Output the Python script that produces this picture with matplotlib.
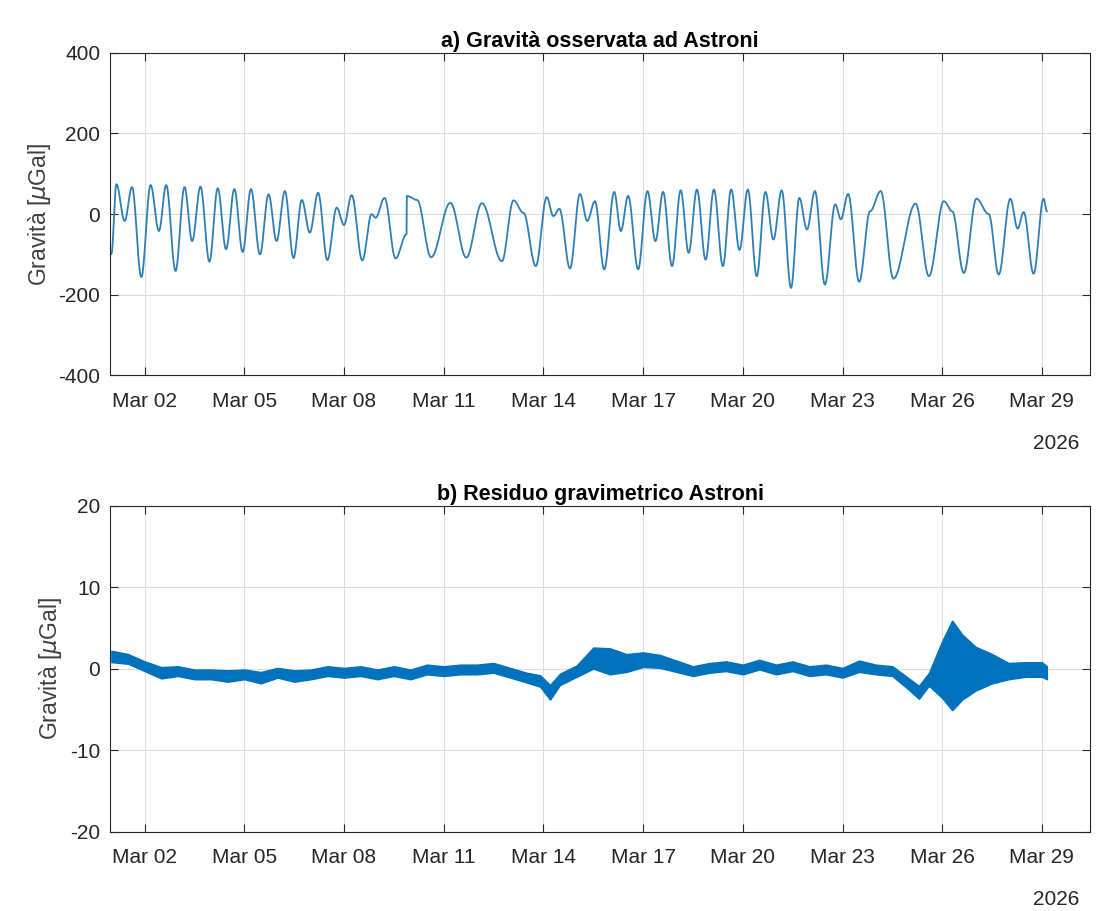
import numpy as np
import matplotlib
matplotlib.use("Agg")
import matplotlib.pyplot as plt
import matplotlib.dates as mdates
from datetime import datetime, timedelta

plt.rcParams['font.family'] = ['Liberation Sans', 'DejaVu Sans']
plt.rcParams['axes.unicode_minus'] = False

START = datetime(2026, 3, 1)

# panel a: turning points of the observed gravity (days from Mar 1, µGal)
obs_days = [0.00, 0.15, 0.40, 0.62, 0.90, 1.18, 1.43, 1.65, 1.93, 2.20, 2.43, 2.68, 2.95,
            3.20, 3.45, 3.70, 3.95, 4.20, 4.47, 4.73, 4.97, 5.22, 5.48, 5.73, 5.97, 6.22,
            6.50, 6.78, 7.00, 7.23, 7.55, 7.83, 7.95, 8.22, 8.55, 8.88, 8.89, 9.20, 9.62,
            10.20, 10.68, 11.15, 11.75, 12.10, 12.40, 12.77, 13.10, 13.30, 13.48, 13.80,
            14.10, 14.32, 14.55, 14.83, 15.13, 15.33, 15.55, 15.85, 16.13, 16.37, 16.60,
            16.87, 17.13, 17.37, 17.62, 17.88, 18.13, 18.40, 18.65, 18.90, 19.15, 19.42,
            19.68, 19.92, 20.17, 20.45, 20.70, 20.93, 21.17, 21.47, 21.78, 21.95, 22.17,
            22.50, 22.83, 23.15, 23.53, 24.20, 24.60, 25.05, 25.30, 25.65, 26.03, 26.40,
            26.70, 27.05, 27.27, 27.45, 27.75, 28.05, 28.15]
obs_vals = [-99, 74, -17, 67, -156, 72, -42, 72, -141, 67, -67, 68, -118,
            64, -87, 62, -94, 62, -100, 49, -67, 57, -109, 35, -46, 53,
            -114, 16, -27, 47, -115, 0, -9, 40, -110, -50, 45, 35, -107,
            28, -108, 27, -117, 34, 3, -129, 42, -5, 13, -135,
            50, -17, 32, -137, 55, -42, 45, -137, 57, -67, 55,
            -129, 59, -96, 61, -113, 61, -129, 61, -89, 61, -154,
            55, -63, 59, -183, 40, -38, 57, -175, 24, -13, 50,
            -168, 7, 57, -160, 26, -154, 32, 7, -146, 38, 0,
            -150, 38, -36, 5, -148, 38, 7]

# panel b: residual level and noise half-width (days from Mar 1, µGal)
res_days = [0.0, 0.5, 1.0, 1.5, 2.0, 2.5, 3.0, 3.5, 4.0, 4.5, 5.0, 5.5, 6.0, 6.5, 7.0,
            7.5, 8.0, 8.5, 9.0, 9.5, 10.0, 10.5, 11.0, 11.5, 12.0, 12.5, 12.9, 13.2,
            13.5, 14.0, 14.5, 15.0, 15.5, 16.0, 16.5, 17.0, 17.5, 18.0, 18.5, 19.0,
            19.5, 20.0, 20.5, 21.0, 21.5, 22.0, 22.5, 23.0, 23.5, 24.0, 24.3, 24.6,
            25.0, 25.3, 25.6, 26.0, 26.5, 27.0, 27.5, 28.0, 28.15]
res_level = [1.5, 1.2, 0.3, -0.5, -0.3, -0.7, -0.7, -0.9, -0.7, -1.1, -0.5, -0.9, -0.7,
             -0.3, -0.5, -0.3, -0.7, -0.3, -0.7, -0.1, -0.3, -0.1, -0.1, 0.1, -0.5, -1.1,
             -1.5, -2.9, -1.3, -0.3, 1.3, 0.9, 0.7, 1.1, 0.9, 0.3, -0.3, 0.1, 0.3, -0.1,
             0.5, -0.1, 0.3, -0.3, -0.1, -0.5, 0.3, -0.1, -0.3, -1.9, -2.9, -1.3,
             -0.1, 0.4, 0.2, 0.0, 0.0, -0.3, -0.1, -0.1, -0.5]
res_half = [0.7, 0.6, 0.6, 0.7, 0.6, 0.6, 0.6, 0.7, 0.6, 0.7, 0.6, 0.7, 0.6, 0.6, 0.6,
            0.6, 0.6, 0.6, 0.6, 0.6, 0.6, 0.6, 0.6, 0.6, 0.6, 0.6, 0.7, 0.9,
            0.7, 0.7, 1.3, 1.6, 1.1, 0.9, 0.8, 0.7, 0.6, 0.6, 0.6, 0.6,
            0.6, 0.6, 0.6, 0.6, 0.6, 0.6, 0.7, 0.6, 0.6, 0.7, 0.8, 0.8,
            3.5, 5.5, 4.0, 2.7, 1.8, 1.0, 0.9, 0.9, 0.8]


def eased(days, vals, n=40):
    # cosine easing between consecutive turning points
    t_out, v_out = [], []
    for i in range(len(days) - 1):
        s = np.linspace(0, 1, n, endpoint=False)
        t_out.append(days[i] + (days[i + 1] - days[i]) * s)
        v_out.append(vals[i] + (vals[i + 1] - vals[i]) * (1 - np.cos(np.pi * s)) / 2)
    t_out.append([days[-1]])
    v_out.append([vals[-1]])
    return np.concatenate(t_out), np.concatenate(v_out)


def to_dates(d):
    return [START + timedelta(days=float(x)) for x in d]


fig = plt.figure(figsize=(11, 9.11), dpi=100)
ax1 = fig.add_axes([0.1, 0.588, 0.891, 0.354])
ax2 = fig.add_axes([0.1, 0.087, 0.891, 0.358])

BLUE = '#0072BD'
t, v = eased(obs_days, obs_vals)
ax1.plot(to_dates(t), v, color='#2f7fb5', lw=1.3)

t2 = np.linspace(res_days[0], res_days[-1], 3000)
lvl = np.interp(t2, res_days, res_level)
hw = np.interp(t2, res_days, res_half)
ax2.fill_between(to_dates(t2), lvl - hw, lvl + hw, color=BLUE, lw=1.0, edgecolor=BLUE)

for ax, lim, ticks, title in [
        (ax1, (-400, 400), [-400, -200, 0, 200, 400], 'a) Gravità osservata ad Astroni'),
        (ax2, (-20, 20), [-20, -10, 0, 10, 20], 'b) Residuo gravimetrico Astroni')]:
    ax.set_ylim(*lim)
    ax.set_yticks(ticks)
    ax.set_xlim(START - timedelta(hours=1), START + timedelta(days=29.45))
    ax.xaxis.set_major_locator(mdates.DayLocator(bymonthday=[2, 5, 8, 11, 14, 17, 20, 23, 26, 29]))
    ax.xaxis.set_major_formatter(mdates.DateFormatter('%b %d'))
    ax.grid(True, color='#dddddd', lw=0.8)
    ax.set_axisbelow(True)
    ax.tick_params(direction='in', labelsize=15, length=6, top=True, right=True, pad=7,
                   colors='#262626')
    ax.tick_params(axis='x', pad=12)
    ax.set_ylabel('Gravità [$\\mu$Gal]', fontsize=16.5, color='#404040')
    ax.set_title(title, fontsize=15.5, fontweight='bold', pad=4)
    for sp in ax.spines.values():
        sp.set_color('#262626')
    ax.annotate('2026', xy=(1.0, 0), xycoords='axes fraction', xytext=(-8, -42),
                textcoords='offset points', ha='right', va='top', fontsize=15, color='#262626')

fig.savefig('out.png', dpi=100)
